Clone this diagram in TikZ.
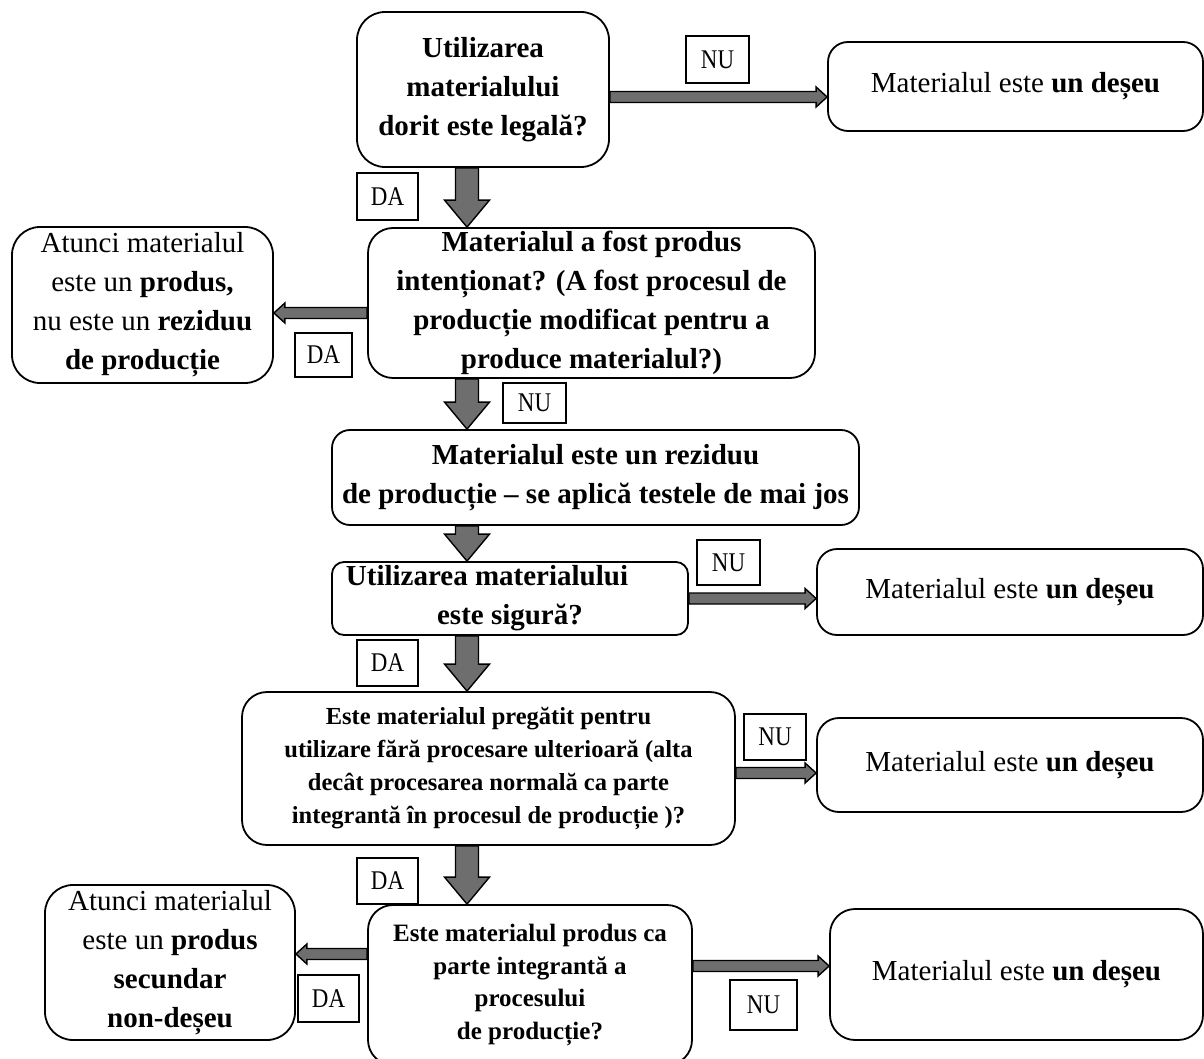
\documentclass[tikz,border=0pt]{standalone}
\usepackage{fontspec}
\setmainfont{Liberation Serif}
\newfontfamily\lblfont[FakeStretch=0.85]{Liberation Serif}
\usetikzlibrary{calc}

\definecolor{arrowgray}{HTML}{6E6E6E}

% Block arrows (grey body, black outline) between two named points
\newcommand\vblk[2]{%
  \draw[blk] let \p1=(#1), \p2=(#2) in
    (\x1-11.5pt,\y1) -- (\x1+11.5pt,\y1) -- (\x1+11.5pt,\y2+27pt) -- (\x1+22.5pt,\y2+27pt)
    -- (\x1,\y2) -- (\x1-22.5pt,\y2+27pt) -- (\x1-11.5pt,\y2+27pt) -- cycle;}
\newcommand\rblk[2]{%
  \draw[blk] let \p1=(#1), \p2=(#2) in
    (\x1,\y1+5.5pt) -- (\x2-11pt,\y1+5.5pt) -- (\x2-11pt,\y1+10pt) -- (\x2,\y1)
    -- (\x2-11pt,\y1-10pt) -- (\x2-11pt,\y1-5.5pt) -- (\x1,\y1-5.5pt) -- cycle;}
\newcommand\lblk[2]{%
  \draw[blk] let \p1=(#1), \p2=(#2) in
    (\x1,\y1+5.5pt) -- (\x2+11pt,\y1+5.5pt) -- (\x2+11pt,\y1+10pt) -- (\x2,\y1)
    -- (\x2+11pt,\y1-10pt) -- (\x2+11pt,\y1-5.5pt) -- (\x1,\y1-5.5pt) -- cycle;}

\tikzset{
  x=1pt, y=-1pt,
  box/.style={draw=black, line width=1.8pt, rounded corners=22pt, fill=white,
    align=center, inner sep=0pt, font=\fontsize{29}{39}\selectfont},
  qbox/.style={box, font=\fontsize{29}{39}\selectfont\bfseries},
  lbl/.style={draw=black, line width=1.6pt, fill=white, inner sep=0pt,
    font=\lblfont\fontsize{27}{30}\selectfont},
  blk/.style={fill=arrowgray, draw=black, line width=1.4pt, line join=miter},
}

\begin{document}
\begin{tikzpicture}
\useasboundingbox (0,0) rectangle (1204,1059);
\fill[white] (0,0) rectangle (1204,1059);

\coordinate (sp) at (467,0);

% decision boxes
\node[qbox, rounded corners=28pt, minimum width=252pt, minimum height=155pt] (A) at (483,89.5)
  {Utilizarea\\materialului\\dorit este legală?};
\node[qbox, rounded corners=25pt, minimum width=447pt, minimum height=150pt] (B) at (591.5,303)
  {Materialul a fost produs\\intenționat? (A fost procesul de\\producție modificat pentru a\\produce materialul?)};
\node[qbox, rounded corners=18pt, minimum width=527pt, minimum height=95pt] (C) at (595.5,477.5)
  {Materialul este un reziduu\\de producție – se aplică testele de mai jos};
\node[qbox, rounded corners=12pt, minimum width=356pt, minimum height=73pt] (D) at (510,598.5)
  {\mbox{Utilizarea materialului\kern46pt}\\este sigură?};
\node[box, rounded corners=25pt, minimum width=493pt, minimum height=153pt,
  font=\fontsize{24.5}{33}\selectfont\bfseries] (E) at (488.5,768.5)
  {Este materialul pregătit pentru\\utilizare fără procesare ulterioară (alta\\decât procesarea normală ca parte\\integrantă în procesul de producție )?};
\node[box, rounded corners=25pt, minimum width=324pt, minimum height=160pt,
  font=\fontsize{25}{32.6}\selectfont\bfseries] (F) at (530,985)
  {Este materialul produs ca\\parte integrantă a\\procesului\\de producție?};

% outcome boxes
\node[box, rounded corners=20pt, minimum width=375pt, minimum height=89pt] (RA) at (1015.5,86.5)
  {Materialul este \textbf{un deșeu}};
\node[box, rounded corners=28pt, minimum width=261pt, minimum height=156pt] (LB) at (142.5,305)
  {Atunci materialul\\este un \textbf{produs,}\\nu este un \textbf{reziduu}\\\textbf{de producție}};
\node[box, rounded corners=20pt, minimum width=386pt, minimum height=86pt] (RD) at (1010,592)
  {Materialul este \textbf{un deșeu}};
\node[box, rounded corners=22pt, minimum width=386pt, minimum height=94pt] (RE) at (1010,765)
  {Materialul este \textbf{un deșeu}};
\node[box, rounded corners=28pt, minimum width=250pt, minimum height=155pt] (LF) at (170,962.5)
  {Atunci materialul\\este un \textbf{produs}\\\textbf{secundar}\\\textbf{non-deșeu}};
\node[box, rounded corners=25pt, minimum width=373pt, minimum height=131pt] (RF) at (1016.5,974.5)
  {Materialul este \textbf{un deșeu}};

% answer labels
\node[lbl, minimum width=63pt, minimum height=47pt] (nu1) at (717.5,59.5) {NU};
\node[lbl, minimum width=61pt, minimum height=47pt] (da1) at (387.5,196.5) {DA};
\node[lbl, minimum width=57pt, minimum height=44pt] (da2) at (323.5,355) {DA};
\node[lbl, minimum width=63pt, minimum height=40pt] (nu2) at (534.5,403) {NU};
\node[lbl, minimum width=63pt, minimum height=45pt] (nu3) at (728.5,562.5) {NU};
\node[lbl, minimum width=61pt, minimum height=46pt] (da3) at (387.5,663) {DA};
\node[lbl, minimum width=62pt, minimum height=46pt] (nu4) at (775,737) {NU};
\node[lbl, minimum width=61pt, minimum height=46pt] (da4) at (387.5,881) {DA};
\node[lbl, minimum width=61pt, minimum height=47pt] (da5) at (328.5,998.5) {DA};
\node[lbl, minimum width=67pt, minimum height=50pt] (nu5) at (763.5,1005) {NU};

% main flow downwards
\vblk{A.south -| sp}{B.north -| sp}
\vblk{B.south -| sp}{C.north -| sp}
\vblk{C.south -| sp}{D.north -| sp}
\vblk{D.south -| sp}{E.north -| sp}
\vblk{E.south -| sp}{F.north -| sp}

% side branches
\rblk{$(A.east)+(0,7.5)$}{RA.west}
\lblk{$(B.west)+(0,10)$}{LB.east}
\rblk{D.east}{RD.west}
\rblk{$(E.east)+(0,4.5)$}{RE.west}
\lblk{$(F.west)+(0,-31)$}{LF.east}
\rblk{$(F.east)+(0,-19)$}{RF.west}
\end{tikzpicture}
\end{document}
